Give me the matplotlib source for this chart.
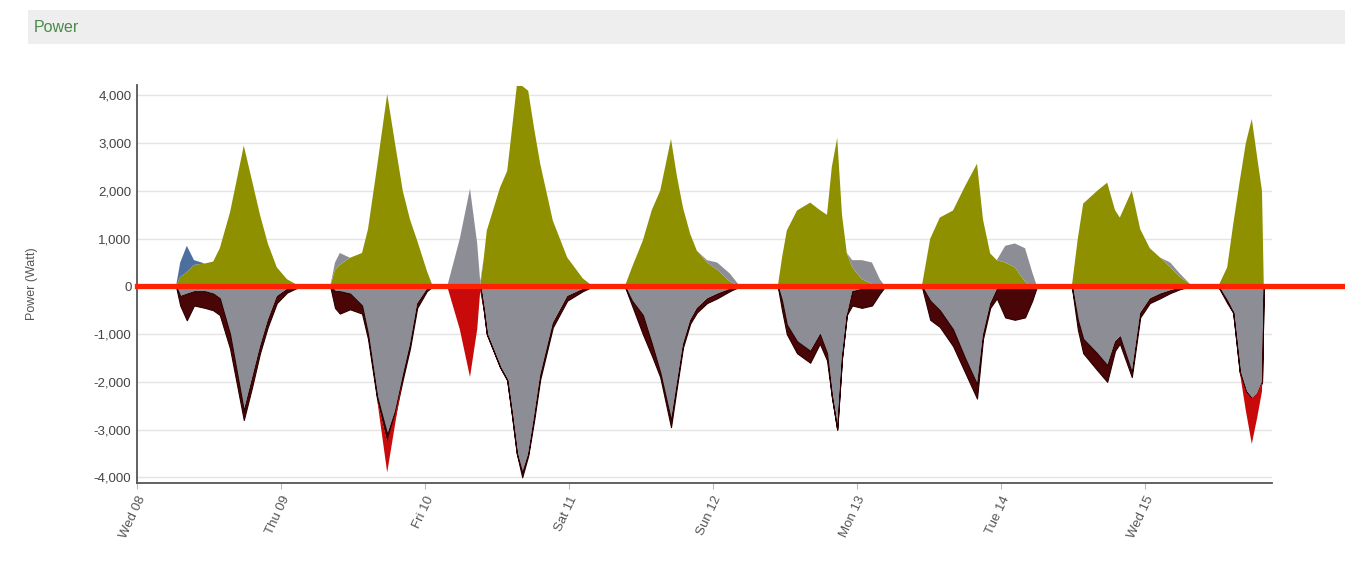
import numpy as np
import matplotlib
matplotlib.use("Agg")
import matplotlib.pyplot as plt
from matplotlib.patches import Rectangle
from matplotlib.ticker import FuncFormatter

plt.rcParams['font.family'] = ['Liberation Sans', 'DejaVu Sans']

# hours since Wed 08 00:00, one block per burst of activity
hours = [
    0, 6.5, 7.2, 8.3, 9.5, 11.3, 12.7, 13.8, 15.5, 17.8, 19.2, 20.5, 21.8, 23.3, 25, 26.7, 28,
    32.2, 33, 33.8, 35.5, 37.5, 38.5, 40, 41.7, 43, 44.3, 45.5, 46.7, 48.3, 49.3,
    51.7, 53.8, 55.5, 56.7, 57.2,
    57.8, 58.3, 60.5, 61.7, 62.5, 63.3, 64.2, 65.2, 66.2, 67.2, 69.3, 71.7, 74.3, 76,
    81.3, 82.5, 84.3, 85.8, 87.2, 89, 90, 91, 92.2, 93.3, 95, 96.7, 98.8, 100.5,
    106.8, 107.5, 108.3, 110, 112.2, 113.8, 115, 115.8, 116.7, 117.5, 118.3, 119.2, 120.8, 122.5, 123.8, 124.7,
    130.8, 132.2, 133.8, 136, 138, 140, 141, 142.2, 143.3, 144.7, 146.3, 148, 149.2, 150,
    155.8, 156.8, 157.7, 160, 161.7, 163, 163.8, 165.8, 167.2, 168.8, 170.5, 172.2, 173.8, 175.5, 176.7,
    180.2, 181.7, 182.7, 183.8, 184.8, 185.8, 186.7, 187.5, 187.8,
]

# production side (W, positive)
solar = [
    0, 0, 200, 300, 450, 480, 520, 800, 1550, 2950, 2200, 1500, 900, 400, 150, 30, 0,
    0, 350, 450, 600, 700, 1200, 2500, 4030, 3000, 2000, 1400, 960, 330, 0,
    0, 0, 0, 0, 0,
    600, 1170, 2070, 2420, 3300, 4200, 4200, 4100, 3300, 2570, 1380, 606, 167, 0,
    0, 400, 960, 1600, 2006, 3090, 2300, 1650, 1100, 750, 500, 350, 100, 0,
    0, 600, 1170, 1590, 1756, 1600, 1500, 2500, 3115, 1500, 700, 400, 150, 50, 0, 0,
    0, 1000, 1442, 1590, 2100, 2570, 1400, 690, 550, 500, 400, 100, 0, 0,
    0, 1000, 1735, 2000, 2174, 1600, 1442, 2006, 1200, 800, 606, 400, 200, 50, 0,
    0, 400, 1300, 2215, 3000, 3511, 2700, 2000, 0,
]
grid_in = [
    0, 0, 0, 0, 0, 0, 0, 0, 0, 0, 0, 0, 0, 0, 0, 0, 0,
    0, 150, 250, 0, 0, 0, 0, 0, 0, 0, 0, 0, 0, 0,
    0, 1000, 2050, 900, 100,
    0, 0, 0, 0, 0, 0, 0, 0, 0, 0, 0, 0, 0, 0,
    0, 0, 0, 0, 0, 0, 0, 0, 0, 0, 50, 150, 170, 0,
    0, 0, 0, 0, 0, 0, 0, 0, 0, 0, 0, 150, 400, 450, 150, 0,
    0, 0, 0, 0, 0, 0, 0, 0, 0, 350, 500, 700, 300, 0,
    0, 0, 0, 0, 0, 0, 0, 0, 0, 0, 0, 100, 70, 0, 0,
    0, 0, 0, 0, 0, 0, 0, 0, 0,
]
battery = [
    0, 0, 300, 550, 100, 0, 0, 0, 0, 0, 0, 0, 0, 0, 0, 0, 0,
    0, 0, 0, 0, 0, 0, 0, 0, 0, 0, 0, 0, 0, 0,
    0, 0, 0, 0, 0,
    0, 0, 0, 0, 0, 0, 0, 0, 0, 0, 0, 0, 0, 0,
    0, 0, 0, 0, 0, 0, 0, 0, 0, 0, 0, 0, 0, 0,
    0, 0, 0, 0, 0, 0, 0, 0, 0, 0, 0, 0, 0, 0, 0, 0,
    0, 0, 0, 0, 0, 0, 0, 0, 0, 0, 0, 0, 0, 0,
    0, 0, 0, 0, 0, 0, 0, 0, 0, 0, 0, 0, 0, 0, 0,
    0, 0, 0, 0, 0, 0, 0, 0, 0,
]

# consumption side (W, drawn below zero)
load = [
    0, 0, 200, 150, 100, 100, 150, 250, 1000, 2600, 1900, 1250, 700, 200, 50, 0, 0,
    0, 100, 100, 150, 400, 1000, 2300, 3100, 2600, 1850, 1200, 350, 50, 0,
    0, 0, 0, 0, 0,
    500, 1000, 1690, 1965, 2700, 3500, 3900, 3500, 2700, 1850, 760, 200, 50, 0,
    0, 300, 600, 1200, 1800, 2800, 2000, 1200, 700, 450, 250, 150, 50, 0,
    0, 300, 800, 1150, 1350, 1000, 1400, 2300, 3000, 1500, 600, 100, 50, 0, 0, 0,
    0, 300, 500, 900, 1500, 2050, 1000, 350, 50, 0, 0, 0, 0, 0,
    0, 700, 1100, 1400, 1650, 1150, 1050, 1800, 550, 250, 150, 80, 30, 0, 0,
    0, 300, 550, 1800, 2200, 2350, 2250, 2000, 0,
]
charge = [
    0, 0, 200, 560, 300, 350, 350, 350, 300, 200, 200, 150, 150, 150, 80, 30, 0,
    0, 350, 470, 330, 170, 100, 50, 150, 100, 100, 100, 100, 50, 0,
    0, 0, 0, 0, 0,
    0, 0, 0, 0, 0, 0, 100, 50, 100, 100, 100, 100, 50, 0,
    0, 100, 400, 250, 100, 150, 100, 80, 80, 100, 100, 100, 50, 0,
    0, 200, 200, 250, 250, 200, 150, 0, 0, 0, 0, 300, 400, 400, 150, 0,
    0, 400, 350, 350, 300, 300, 100, 100, 200, 650, 700, 650, 300, 0,
    0, 200, 300, 350, 350, 200, 150, 100, 100, 100, 100, 60, 30, 0, 0,
    0, 50, 0, 0, 0, 0, 0, 0, 0,
]
grid_out = [
    0, 0, 0, 0, 0, 0, 0, 0, 0, 0, 0, 0, 0, 0, 0, 0, 0,
    0, 0, 0, 0, 0, 0, 0, 650, 200, 0, 0, 0, 0, 0,
    0, 900, 1900, 900, 100,
    0, 0, 0, 0, 0, 0, 0, 0, 0, 0, 0, 0, 0, 0,
    0, 0, 0, 0, 0, 0, 0, 0, 0, 0, 0, 0, 0, 0,
    0, 0, 0, 0, 0, 0, 0, 0, 0, 0, 0, 0, 0, 0, 0, 0,
    0, 0, 0, 0, 0, 0, 0, 0, 0, 0, 0, 0, 0, 0,
    0, 0, 0, 0, 0, 0, 0, 0, 0, 0, 0, 0, 0, 0, 0,
    0, 0, 0, 0, 400, 950, 500, 200, 0,
]

day_labels = ["Wed 08", "Thu 09", "Fri 10", "Sat 11", "Sun 12", "Mon 13", "Tue 14", "Wed 15"]
y_ticks = [-4000, -3000, -2000, -1000, 0, 1000, 2000, 3000, 4000]

for s in (solar, grid_in, battery, load, charge, grid_out):
    assert len(s) == len(hours), len(s)

t = np.array(hours)

fig = plt.figure(figsize=(13.45, 5.64), dpi=100)
fig.patch.set_facecolor("white")

# header bar
fig.patches.append(Rectangle((28 / 1345, 1 - 44 / 564), 1 - 28 / 1345, 34 / 564,
                             transform=fig.transFigure, facecolor="#eeeeee",
                             edgecolor="none", zorder=0))
fig.text(34 / 1345, 1 - 28 / 564, "Power", color="#4a8a4a", fontsize=11.5, va="center")

ax = fig.add_axes([137 / 1345, 1 - 483 / 564, (1272 - 137) / 1345, (483 - 85) / 564])

ax.stackplot(t, solar, grid_in, battery,
             colors=["#8e9000", "#8d8d95", "#4d6fa0"], linewidth=0)
polys = ax.stackplot(t, -np.array(load), -np.array(charge), -np.array(grid_out),
                     colors=["#8d8d95", "#4a0606", "#c80a0a"], linewidth=0)
polys[1].set_edgecolor("#2a0000")
polys[1].set_linewidth(0.8)

xmax = (1272 - 137) / 6
ax.plot([0, (1345 - 137) / 6], [0, 0], color="#ff2200", lw=3.8, clip_on=False, zorder=5)

ax.set_xlim(0, xmax)
ax.set_ylim(-4120, 4220)
ax.set_yticks(y_ticks)
ax.yaxis.set_major_formatter(FuncFormatter(lambda v, p: f"{int(v):,}"))
ax.set_xticks([24 * i for i in range(len(day_labels))])
ax.set_xticklabels(day_labels, rotation=65, ha="right", rotation_mode="anchor")

ax.grid(axis="y", color="#e4e4e4", lw=1)
ax.set_axisbelow(True)
for side in ("top", "right"):
    ax.spines[side].set_visible(False)
for side in ("left", "bottom"):
    ax.spines[side].set_color("#555555")
    ax.spines[side].set_linewidth(1.3)

ax.tick_params(axis="y", length=0, labelsize=9.5, colors="#444444", pad=4)
ax.tick_params(axis="x", length=4, labelsize=9.5, colors="#555555", pad=4)
ax.xaxis.set_tick_params(color="#bbbbbb")
ax.set_ylabel("Power (Watt)", fontsize=9, color="#555555", labelpad=40)

fig.savefig("out.png", dpi=100, facecolor="white")
